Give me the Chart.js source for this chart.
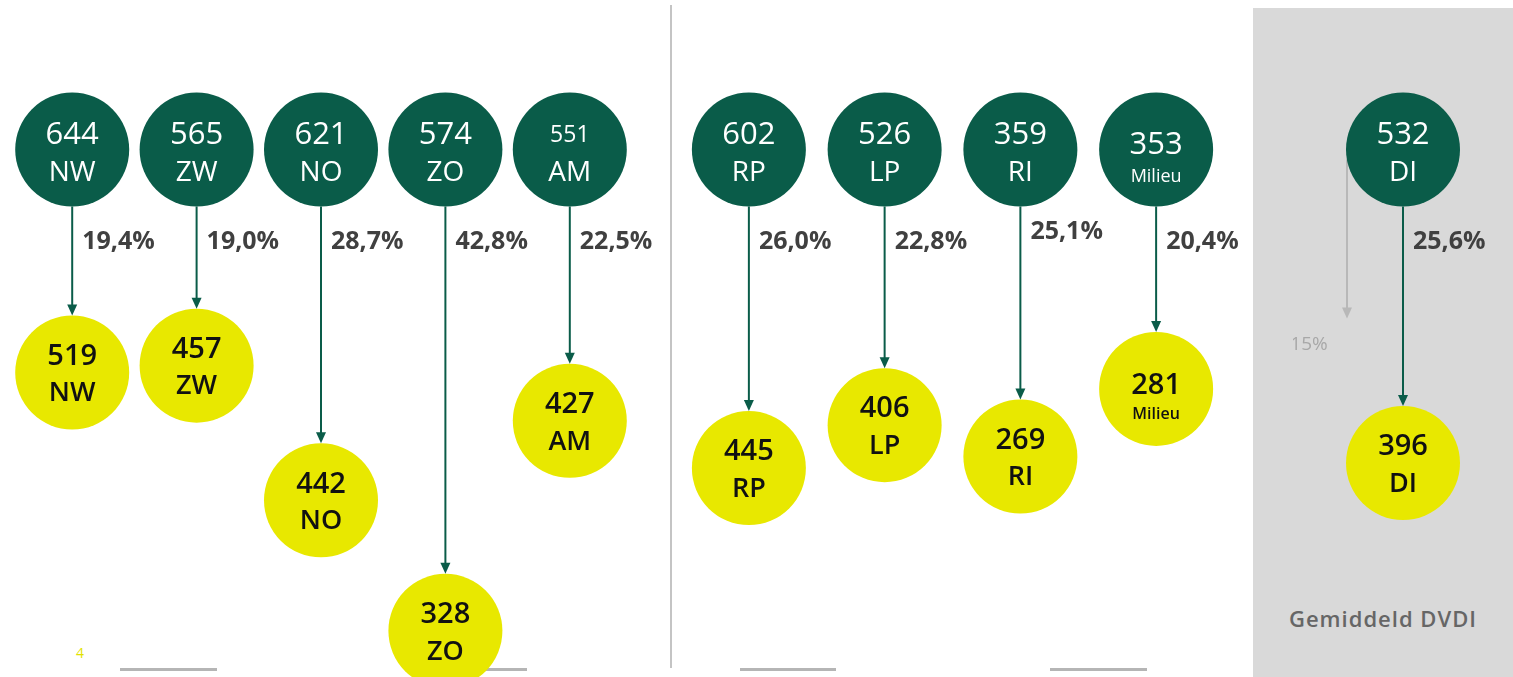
<!DOCTYPE html>
<html>
<head>
<meta charset="utf-8">
<script src="https://cdn.jsdelivr.net/npm/chart.js@4"></script>
<style>
  body { margin: 0; background: #fff; font-family: "Open Sans", sans-serif; }
  #page { position: relative; width: 1513px; height: 677px; overflow: hidden; }
  canvas { position: absolute; top: 0; }
  #avgPanel { position: absolute; left: 1253px; top: 8px; width: 260px; height: 669px; background: #d9d9d9; }
  #divider { position: absolute; left: 670px; top: 5px; width: 2px; height: 663px; background: #c4c4c4; }
  .foot { position: absolute; top: 668px; height: 3px; background: #b5b5b5; }
  #pageNo { position: absolute; left: 76px; top: 643px; font-size: 14px; color: #e2e200; }
  #avgTitle { position: absolute; left: 1253px; width: 260px; top: 603px; text-align: center; font-size: 22px; color: #666; font-weight: 600; letter-spacing: 1px; }
</style>
</head>
<body>
<div id="page">
  <div id="avgPanel"></div>
  <div id="divider"></div>
  <div class="foot" style="left:120px;width:97px"></div>
  <div class="foot" style="left:427px;width:100px"></div>
  <div class="foot" style="left:740px;width:96px"></div>
  <div class="foot" style="left:1050px;width:97px"></div>
  <div id="pageNo">4</div>
  <div id="avgTitle">Gemiddeld DVDI</div>
  <canvas id="left" width="662" height="677" style="left:10px"></canvas>
  <canvas id="mid" width="583" height="677" style="left:681px"></canvas>
  <canvas id="avg" width="220" height="677" style="left:1293px"></canvas>
</div>
<script>
// regio's links
const regionsLeft = ['NW', 'ZW', 'NO', 'ZO', 'AM'];
const beforeLeft = [644, 565, 621, 574, 551];
const afterLeft = [519, 457, 442, 328, 427];
const dropLeft = [19.4, 19.0, 28.7, 42.8, 22.5];

// rest van de organisatie
const regionsMid = ['RP', 'LP', 'RI', 'Milieu'];
const beforeMid = [602, 526, 359, 353];
const afterMid = [445, 406, 269, 281];
const dropMid = [26.0, 22.8, 25.1, 20.4];

// gemiddeld
const regionsAvg = ['DI'];
const beforeAvg = [532];
const afterAvg = [396];
const dropAvg = [25.6];
const benchmarkDrop = 15;

const GREEN = '#0a5c49';
const YELLOW = '#e8e800';
const R = 57;
const START_LEVEL = 9.8;   // level of the top row on the drop axis

const fmtPct = v => v.toFixed(1).replace('.', ',') + '%';

function arrow(ctx, x, y1, y2, color, w) {
    ctx.save();
    ctx.strokeStyle = color;
    ctx.fillStyle = color;
    ctx.lineWidth = w;
    ctx.beginPath();
    ctx.moveTo(x, y1);
    ctx.lineTo(x, y2 - 8);
    ctx.stroke();
    ctx.beginPath();
    ctx.moveTo(x - 5, y2 - 11);
    ctx.lineTo(x + 5, y2 - 11);
    ctx.lineTo(x, y2);
    ctx.closePath();
    ctx.fill();
    ctx.restore();
}

const circlePlugin = {
    id: 'circleText',
    beforeDatasetsDraw(chart, args, opts) {
        if (opts.benchmark == null) return;
        const ctx = chart.ctx;
        const g = chart.getDatasetMeta(0).data[0];
        const x = g.x - R + 1;
        const yEnd = chart.scales.y.getPixelForValue(opts.benchmark) + 30;
        arrow(ctx, x, g.y + 10, yEnd, '#b8b8b8', 2);
        ctx.save();
        ctx.fillStyle = '#a8a8a8';
        ctx.font = '19px "Open Sans"';
        ctx.textAlign = 'center';
        ctx.textBaseline = 'middle';
        ctx.fillText(opts.benchmark + '%', x - 38, yEnd + 26);
        ctx.restore();
    },
    afterDatasetsDraw(chart, args, opts) {
        const ctx = chart.ctx;
        const top = chart.getDatasetMeta(0).data;
        const bottom = chart.getDatasetMeta(1).data;
        const labels = chart.data.labels;
        ctx.save();
        ctx.textAlign = 'center';
        ctx.textBaseline = 'middle';
        top.forEach((g, i) => {
            const y = bottom[i];
            const long = labels[i].length > 2;
            arrow(ctx, g.x, g.y + R, y.y - R, GREEN, 2);

            // green circle text
            ctx.fillStyle = '#fff';
            ctx.font = (labels[i] === 'AM' ? '23px' : '31px') + ' "Open Sans"';
            ctx.fillText(opts.before[i], g.x, g.y - (long ? 4 : 14));
            ctx.font = (long ? '18px' : '28px') + ' "Open Sans"';
            ctx.fillText(labels[i], g.x, g.y + (long ? 27 : 24));

            // yellow circle text
            ctx.fillStyle = '#111';
            ctx.font = '600 29px "Open Sans"';
            ctx.fillText(opts.after[i], y.x, y.y - (long ? 3 : 16));
            ctx.font = '600 ' + (long ? '16px' : '27px') + ' "Open Sans"';
            ctx.fillText(labels[i], y.x, y.y + (long ? 26 : 21));

            // drop percentage
            ctx.fillStyle = '#404040';
            ctx.font = 'bold 25px "Open Sans"';
            ctx.textAlign = 'left';
            ctx.fillText(fmtPct(opts.drop[i]), g.x + 10, g.y + (labels[i] === 'RI' ? 82 : 92));
            ctx.textAlign = 'center';
        });
        ctx.restore();
    }
};

function makeChart(id, labels, before, after, drop, benchmark, padRight) {
    return new Chart(document.getElementById(id).getContext('2d'), {
        type: 'line',
        data: {
            labels: labels,
            datasets: [{
                label: 'voor',
                data: labels.map(() => START_LEVEL),
                showLine: false,
                pointRadius: R,
                pointHoverRadius: R,
                pointBorderWidth: 0,
                pointBackgroundColor: GREEN,
                clip: false
            }, {
                label: 'na',
                data: drop,
                showLine: false,
                pointRadius: R,
                pointHoverRadius: R,
                pointBorderWidth: 0,
                pointBackgroundColor: YELLOW,
                clip: false
            }]
        },
        options: {
            responsive: false,
            animation: false,
            events: [],
            layout: { padding: { left: 0, top: 0, bottom: 0, right: padRight }, autoPadding: false },
            scales: {
                x: { display: false, offset: true },
                y: { display: false, type: 'logarithmic', reverse: true, min: 6.2, max: 49.3 }
            },
            plugins: {
                legend: { display: false },
                tooltip: { enabled: false },
                circleText: { before: before, after: after, drop: drop, benchmark: benchmark }
            }
        },
        plugins: [circlePlugin]
    });
}

makeChart('left', regionsLeft, beforeLeft, afterLeft, dropLeft, null, 40);
makeChart('mid', regionsMid, beforeMid, afterMid, dropMid, null, 40);
makeChart('avg', regionsAvg, beforeAvg, afterAvg, dropAvg, benchmarkDrop, 0);
</script>
</body>
</html>
